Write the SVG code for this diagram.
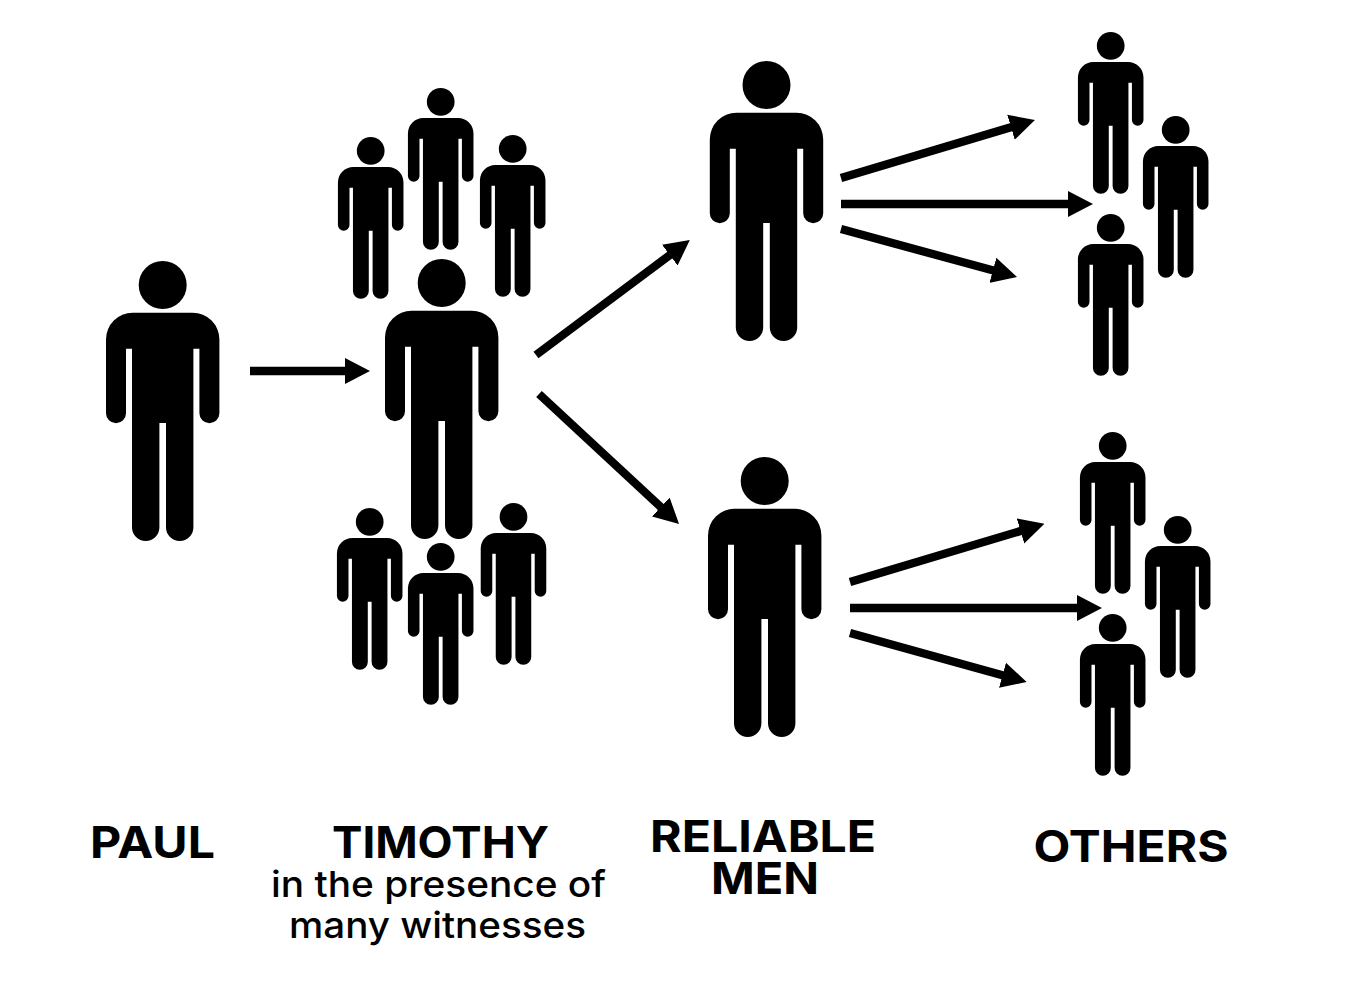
<svg xmlns="http://www.w3.org/2000/svg" width="1353" height="985" viewBox="0 0 1353 985">
<style>
.h{font-family:"Inter","Liberation Sans",sans-serif;font-weight:700;font-size:44px;fill:#000;text-anchor:middle}
.s{font-family:"Inter","Liberation Sans",sans-serif;font-weight:500;font-size:36px;fill:#000;text-anchor:middle}
.c{fill:none;stroke:#000;stroke-width:8.3;marker-end:url(#a)}
</style>
<defs>
<marker id="a" markerUnits="userSpaceOnUse" markerWidth="25" markerHeight="27" refX="14" refY="13.500" orient="auto" viewBox="0 0 25 27"><path d="M0,0.5L25,13.500L0,26.500Z" fill="#000"/></marker>
<g id="p"><circle cx="0" cy="24" r="24"/><path d="M-30,51.7H30A26.7,26.7 0 0 1 56.7,78.4V152.3A10,10 0 0 1 36.7,152.3V87.7H30.7V266.3A13.7,13.7 0 0 1 3.3,266.3V162H-3.3V266.3A13.7,13.7 0 0 1 -30.7,266.3V87.7H-36.7V152.3A10,10 0 0 1 -56.7,152.3V78.4A26.7,26.7 0 0 1 -30,51.7Z"/></g>
</defs>
<rect width="1353" height="985" fill="#fff"/>
<g id="connectors">
<path class="c" d="M250,371L359,371"/>
<path class="c" d="M536,355L681,246.700"/>
<path class="c" d="M539,394L671,516.500"/>
<path class="c" d="M841,178L1024.400,123.200"/>
<path class="c" d="M841,204L1082,204"/>
<path class="c" d="M841,229L1006.400,274.100"/>
<path class="c" d="M850,582L1033.900,527"/>
<path class="c" d="M850,608L1091,608"/>
<path class="c" d="M850,633L1016,679"/>
</g>
<g id="paul"><use href="#p" transform="translate(162.7,261)"/><text class="h" x="152.500" y="858" textLength="125" lengthAdjust="spacingAndGlyphs">PAUL</text></g>
<g id="timothy"><use href="#p" transform="translate(441.7,259)"/><text class="h" x="440.500" y="858" textLength="217" lengthAdjust="spacingAndGlyphs">TIMOTHY</text><text class="s" x="438.500" y="897" textLength="335" lengthAdjust="spacingAndGlyphs">in the presence of</text><text class="s" x="437.500" y="938" textLength="297" lengthAdjust="spacingAndGlyphs">many witnesses</text></g>
<g id="witnesses-top">
<use href="#p" transform="translate(440.700,88) scale(.578)"/>
<use href="#p" transform="translate(370.700,137) scale(.578)"/>
<use href="#p" transform="translate(512.700,135) scale(.578)"/>
</g>
<g id="witnesses-bottom">
<use href="#p" transform="translate(369.700,508) scale(.578)"/>
<use href="#p" transform="translate(440.700,543) scale(.578)"/>
<use href="#p" transform="translate(513.500,503) scale(.578)"/>
</g>
<g id="reliable-1"><use href="#p" transform="translate(766.500,61)"/></g>
<g id="reliable-2"><use href="#p" transform="translate(764.700,457)"/></g>
<g id="reliable-label"><text class="h" x="763" y="852" textLength="226" lengthAdjust="spacingAndGlyphs">RELIABLE</text><text class="h" x="765" y="894" textLength="108" lengthAdjust="spacingAndGlyphs">MEN</text></g>
<g id="others-1">
<use href="#p" transform="translate(1110.700,32) scale(.578)"/>
<use href="#p" transform="translate(1175.700,116) scale(.578)"/>
<use href="#p" transform="translate(1110.700,214) scale(.578)"/>
</g>
<g id="others-2">
<use href="#p" transform="translate(1112.700,432) scale(.578)"/>
<use href="#p" transform="translate(1177.700,516) scale(.578)"/>
<use href="#p" transform="translate(1112.700,614) scale(.578)"/>
</g>
<g id="others-label"><text class="h" x="1131" y="862" textLength="195" lengthAdjust="spacingAndGlyphs">OTHERS</text></g>
</svg>
